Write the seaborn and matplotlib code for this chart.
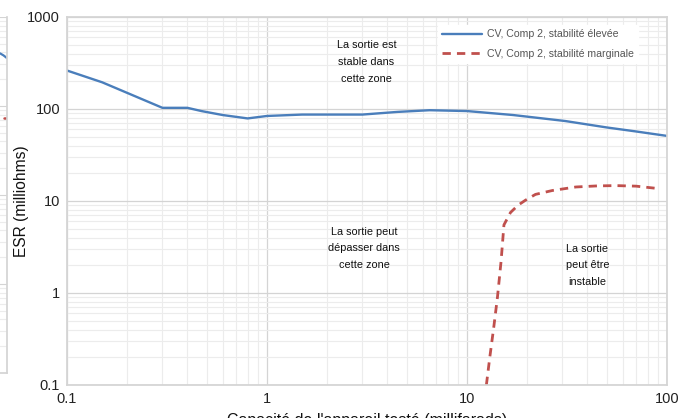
import numpy as np
import pandas as pd
import seaborn as sns
import matplotlib.pyplot as plt
from matplotlib.ticker import FixedLocator, FixedFormatter, LogLocator, NullFormatter

# blue curve: high stability
cap_high = [0.1, 0.15, 0.3, 0.4, 0.47, 0.6, 0.8, 1.0, 1.5, 3.0, 4.5, 6.5, 10, 17, 31, 50, 70, 100]
esr_high = [262, 195, 103, 103, 95, 86, 79, 84, 87, 87, 93, 97, 95, 86, 74, 63, 57, 51]

# red dashed curve: marginal stability
cap_marg = [12.5, 13.0, 13.6, 14.2, 14.8, 15.3, 16.5, 18.0, 19.6, 22.0, 26.7, 35, 45, 55.6, 70, 92]
esr_marg = [0.1, 0.2, 0.42, 0.9, 2.2, 5.5, 7.5, 9.0, 10.2, 11.8, 13.0, 14.2, 14.6, 14.7, 14.5, 13.6]

# sliver of the neighbouring chart on the left edge
side_x = [0.0, 0.5, 1.0]
side_blue = [390, 370, 345]
side_red_x = [0.6, 1.0]
side_red = [73, 73]

labels = ["CV, Comp 2, stabilité élevée", "CV, Comp 2, stabilité marginale"]
ytick_vals = [0.1, 1, 10, 100, 1000]
ytick_text = ["0.1", "1", "10", "100", "1000"]
xtick_vals = [0.1, 1, 10, 100]
xtick_text = ["0.1", "1", "10", "100"]

sns.set_theme(style="white")
plt.rcParams['font.family'] = ['Liberation Sans', 'DejaVu Sans']

blue = "#4a7ebb"
red = "#c0504d"
major_c = "#d4d4d4"
minor_c = "#ececec"

fig = plt.figure(figsize=(6.87, 4.18), dpi=100)

# left sliver
axs = fig.add_axes([-0.1, 1 - 373 / 418, 0.1 + 7 / 687, 356 / 418])
axs.set_yscale("log")
axs.set_ylim(0.1, 1000)
axs.set_xlim(-10, 1)
sns.lineplot(x=side_x, y=side_blue, ax=axs, color=blue, linewidth=1.6)
sns.lineplot(x=side_red_x, y=side_red, ax=axs, color=red, linewidth=1.8)
axs.yaxis.set_minor_locator(LogLocator(base=10, subs=np.arange(2, 10)))
axs.grid(True, which="major", color=major_c, linewidth=0.8)
axs.grid(True, which="minor", color=minor_c, linewidth=0.8)
axs.set_xticks([])
axs.set_yticklabels([])
axs.tick_params(left=False, which="both")
for s in axs.spines.values():
    s.set_color(major_c)
axs.spines["top"].set_visible(False)
axs.spines["left"].set_visible(False)

# main chart
ax = fig.add_axes([67 / 687, 1 - 385 / 418, 600 / 687, 368 / 418])
df_high = pd.DataFrame({"cap": cap_high, "esr": esr_high})
df_marg = pd.DataFrame({"cap": cap_marg, "esr": esr_marg})
sns.lineplot(data=df_high, x="cap", y="esr", ax=ax, color=blue, linewidth=1.7, label=labels[0])
sns.lineplot(data=df_marg, x="cap", y="esr", ax=ax, color=red, linewidth=2.0,
             dashes=False, label=labels[1])
ax.lines[1].set_dashes([3, 2.2])

ax.set_xscale("log")
ax.set_yscale("log")
ax.set_xlim(0.1, 100)
ax.set_ylim(0.1, 1000)
ax.xaxis.set_major_locator(FixedLocator(xtick_vals))
ax.xaxis.set_major_formatter(FixedFormatter(xtick_text))
ax.yaxis.set_major_locator(FixedLocator(ytick_vals))
ax.yaxis.set_major_formatter(FixedFormatter(ytick_text))
ax.xaxis.set_minor_locator(LogLocator(base=10, subs=np.arange(2, 10)))
ax.yaxis.set_minor_locator(LogLocator(base=10, subs=np.arange(2, 10)))
ax.xaxis.set_minor_formatter(NullFormatter())
ax.yaxis.set_minor_formatter(NullFormatter())
ax.grid(True, which="minor", color=minor_c, linewidth=0.8)
ax.grid(True, which="major", color=major_c, linewidth=0.9)
ax.set_axisbelow(True)
ax.tick_params(which="both", length=0, labelsize=10.5, colors="#222222", pad=5)
for s in ax.spines.values():
    s.set_color(major_c)

ax.set_ylabel("ESR (milliohms)", fontsize=11.2, color="#111111")
ax.yaxis.set_label_coords(-0.064, 0.5)
ax.set_xlabel("Capacité de l'appareil testé (millifarads)", fontsize=11.5, color="#111111", labelpad=5)

ax.text(3.14, 325, "La sortie est\nstable dans\ncette zone", ha="center", va="center",
        fontsize=7.8, linespacing=1.85, color="#111111")
ax.text(3.06, 3.06, "La sortie peut\ndépasser dans\ncette zone", ha="center", va="center",
        fontsize=7.8, linespacing=1.85, color="#111111")
ax.text(40, 2.0, "La sortie\npeut être\ninstable", ha="center", va="center",
        fontsize=7.8, linespacing=1.85, color="#111111")

leg = ax.legend(loc="upper left", bbox_to_anchor=((438 - 67) / 600, 1 - 8 / 368),
                fontsize=7.6, frameon=True, fancybox=False,
                borderaxespad=0, handlelength=3.8, handletextpad=0.4,
                labelspacing=0.9, borderpad=0.4)
leg.get_frame().set_edgecolor("white")
leg.get_frame().set_facecolor("white")
leg.get_frame().set_alpha(1)
for t in leg.get_texts():
    t.set_color("#555555")

fig.savefig("out.png", dpi=100)
